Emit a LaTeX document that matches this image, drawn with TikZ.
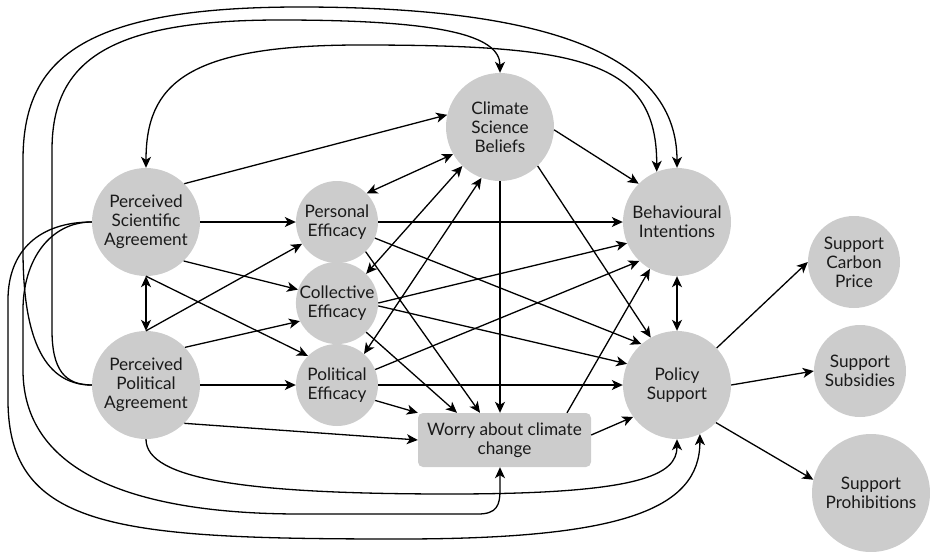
\documentclass[tikz,border=0pt]{standalone}
\usepackage{fontspec}
\setmainfont{Lato}
\usetikzlibrary{arrows.meta,calc}
\definecolor{nodegray}{HTML}{CCCCCC}
\definecolor{txtcol}{HTML}{1A1A1A}
\begin{document}
\begin{tikzpicture}[x=1pt,y=-1pt,
  circ/.style={circle,fill=nodegray,draw=none,inner sep=0pt,align=center,text=txtcol,font=\fontsize{17.2}{19}\selectfont},
  bigc/.style={circ,minimum size=108pt},
  smallc/.style={circ,minimum size=82pt},
  supc/.style={circ,minimum size=92pt},
  tip/.tip={Stealth[length=11pt,width=10pt,inset=3pt]},
  arr/.style={line width=1.3pt,-tip},
  darr/.style={line width=1.3pt,tip-tip},
]
\useasboundingbox (0,0) rectangle (930,552);
% nodes
\node[bigc] (psa) at (146,222) {Perceived\\Scientific\\Agreement};
\node[bigc] (ppa) at (146,385) {Perceived\\Political\\Agreement};
\node[smallc] (pe) at (337,222) {Personal\\Efficacy};
\node[smallc] (ce) at (337,303) {Collective\\Efficacy};
\node[smallc] (pol) at (337,385) {Political\\Efficacy};
\node[bigc] (csb) at (500,127) {Climate\\Science\\Beliefs};
\node[bigc] (bi) at (677,222) {Behavioural\\Intentions};
\node[bigc] (ps) at (677,385) {Policy\\Support};
\node[supc] (carbon) at (854,262) {Support\\Carbon\\Price};
\node[supc] (subs) at (860,371) {Support\\Subsidies};
\node[circ,minimum size=118pt] (prohib) at (871,493) {Support\\Prohibitions};
\node[rectangle,rounded corners=5pt,fill=nodegray,minimum width=173pt,minimum height=54pt,inner sep=0pt,align=center,text=txtcol,font=\fontsize{17.2}{19}\selectfont] (worry) at (504.5,440) {Worry about climate\\change};
% straight edges
\draw[arr] (psa.45) -- (csb.167);
\draw[arr] (psa.east) -- (pe.west);
\draw[arr] (psa.-46) -- (ce.161);
\draw[arr] (psa.south) -- (pol.135);
\draw[darr] (psa.south) -- (ppa.north);
\draw[arr] (ppa.north) -- (pe.212);
\draw[arr] (ppa.44) -- (ce.206);
\draw[arr] (ppa.east) -- (pol.west);
\draw[arr] (ppa.-45) -- (worry.west);
\draw[darr] (pe.44) -- (csb.210);
\draw[darr] (ce.45) -- (csb.226);
\draw[darr] (pol.49) -- (csb.250);
\draw[arr] (csb.south) -- (csb.south |- worry.north);
\draw[arr] (csb.-46) -- (ps.119);
\draw[arr] (csb.-3) -- (bi.135);
\draw[arr] (pe.east) -- (bi.west);
\draw[arr] (pe.-23) -- (ps.131);
\draw[arr] (pe.-46) -- ([xshift=-24.5pt]worry.north);
\draw[arr] (ce.-45) -- ([xshift=-47.5pt]worry.north);
\draw[arr] (pol.-22) -- (worry.north west);
\draw[arr] (ce.0) -- (bi.203);
\draw[arr] (ce.-4) -- (ps.157);
\draw[arr] (pol.22) -- (bi.226);
\draw[arr] (pol.east) -- (ps.west);
\draw[arr] ([yshift=5pt]worry.east) -- (ps.216);
\draw[arr] ([xshift=62.5pt]worry.north) -- (bi.240);
\draw[darr] (bi.south) -- (ps.north);
\draw[arr] (ps.43) -- (carbon.west);
\draw[arr] (ps.east) -- (subs.west);
\draw[arr] (ps.-44) -- (prohib.167);
% curved edges
\draw[darr] (psa.north) .. controls (146,85) and (185,45) .. (360,45) .. controls (580,45) and (657,60) .. (bi.112);
\draw[arr] (ppa.west) .. controls (65,385) and (52,370) .. (52,330) -- (52,150) .. controls (52,60) and (110,20) .. (280,20) .. controls (440,20) and (500,35) .. (csb.north);
\draw[arr] (ppa.west) .. controls (40,385) and (23,330) .. (23,250) -- (23,160) .. controls (23,60) and (80,7) .. (300,7) .. controls (560,7) and (677,60) .. (bi.north);
\draw[arr] (psa.west) .. controls (40,222) and (8,250) .. (8,300) -- (8,400) .. controls (8,530) and (120,539) .. (400,539) .. controls (620,539) and (700,510) .. (ps.-65);
\draw[arr] (psa.west) .. controls (50,222) and (23,260) .. (23,310) -- (23,370) .. controls (23,480) and (150,514) .. (300,514) -- (478,514) .. controls (497,514) and (500,505) .. (500,490) -- ([xshift=-4.5pt]worry.south);
\draw[arr] (ppa.south) .. controls (146,480) and (250,494) .. (450,494) .. controls (640,494) and (677,475) .. (ps.south);
\end{tikzpicture}
\end{document}
